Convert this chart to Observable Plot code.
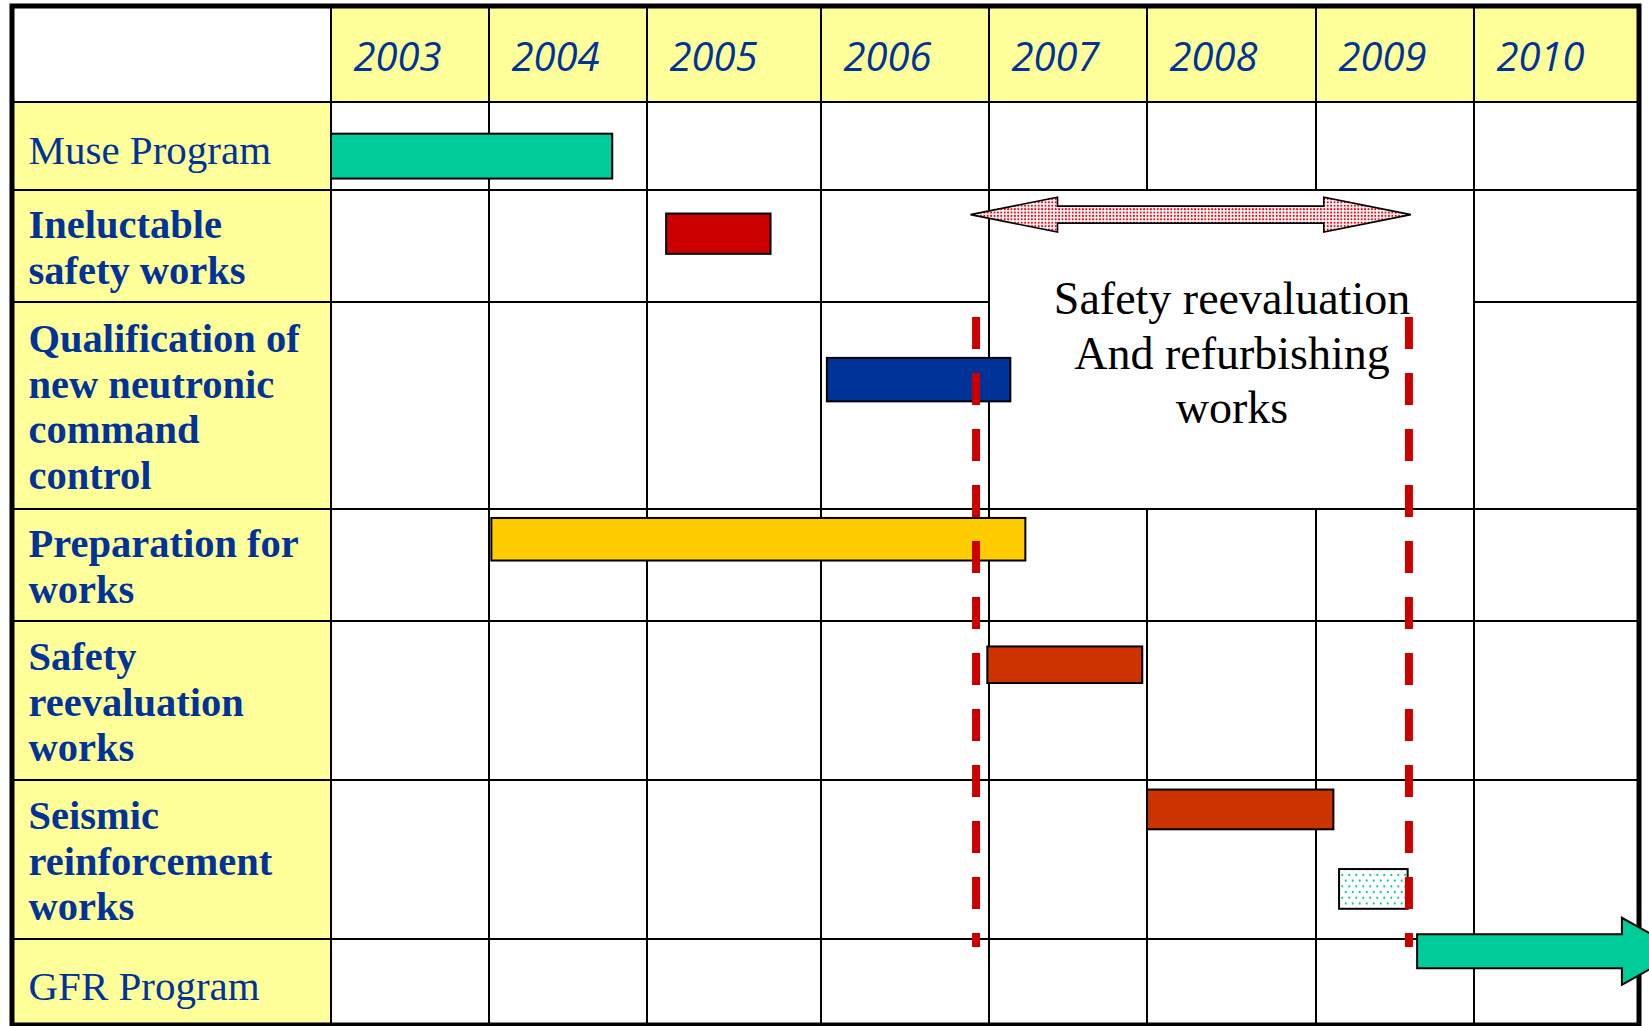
<!DOCTYPE html>
<html>
<head>
<meta charset="utf-8">
<script src="https://cdn.jsdelivr.net/npm/d3@7"></script>
<script src="https://cdn.jsdelivr.net/npm/@observablehq/plot@0.6"></script>
<style>
html, body { margin: 0; padding: 0; overflow: hidden; background: #fff; }
</style>
</head>
<body>
<div id="chart"></div>
<script>
// ---------------- data ----------------
const years = [2003, 2004, 2005, 2006, 2007, 2008, 2009, 2010];
const rowLabels = [
  "Muse Program",
  "Ineluctable\nsafety works",
  "Qualification of\nnew neutronic\ncommand\ncontrol",
  "Preparation for\nworks",
  "Safety\nreevaluation\nworks",
  "Seismic\nreinforcement\nworks",
  "GFR Program"
];
const rowBold = [false, true, true, true, true, true, false];

// tasks (bars): row index, start / end (fractional year), lane within row (fraction of row)
const taskRow        = [0, 1, 2, 3, 4, 5, 5];
const taskStart      = [2003.0, 2005.11, 2006.035, 2004.015, 2006.99, 2008.0, 2009.146];
const taskEnd        = [2004.78, 2005.71, 2007.135, 2007.23, 2007.97, 2009.11, 2009.58];
const taskLaneTop    = [0.36, 0.21, 0.27, 0.08, 0.16, 0.06, 0.56];
const taskLaneBottom = [0.87, 0.57, 0.48, 0.46, 0.39, 0.31, 0.81];
const taskKind       = ["muse", "ineluctable", "qualification", "preparation", "safety", "seismic", "seismicOption"];

// safety reevaluation period: double arrow, merged box, dashed markers
const periodArrow = {start: 2006.89, end: 2009.60, row: 1, lane: 0.22};
const periodMarkers = [2006.92, 2009.585];
const boxYears = [2007, 2010];     // merged cell spans 2007..2009
const boxRows = [1, 3];            // rows "Ineluctable" and "Qualification"
const boxText = "Safety reevaluation\nAnd refurbishing\nworks";

// GFR program arrow
const gfrArrow = {start: 2009.64, end: 2011.26, row: 6, lane: 0.143};

// ---------------- styles ----------------
const yellow = "#FFFF99";
const labelBlue = "#003399";
const kindColor = {
  muse: "#00CC99", ineluctable: "#CC0000", qualification: "#003399",
  preparation: "#FFCC00", safety: "#CC3300", seismic: "#CC3300",
  seismicOption: "url(#dotsTeal)"
};

// ---------------- tables ----------------
const labelCol = years[0] - 1;
const lastEdge = years[years.length - 1] + 1;

const cells = [];
cells.push({x1: labelCol, x2: years[0], y1: 0, y2: 1, fill: "white"});
for (const yr of years) cells.push({x1: yr, x2: yr + 1, y1: 0, y2: 1, fill: yellow});
rowLabels.forEach((_, r) => {
  cells.push({x1: labelCol, x2: years[0], y1: r + 1, y2: r + 2, fill: yellow});
  for (const yr of years) {
    const inBox = yr >= boxYears[0] && yr < boxYears[1] && r >= boxRows[0] && r < boxRows[1];
    if (!inBox) cells.push({x1: yr, x2: yr + 1, y1: r + 1, y2: r + 2, fill: "white"});
  }
});
cells.push({x1: boxYears[0], x2: boxYears[1], y1: boxRows[0] + 1, y2: boxRows[1] + 1, fill: "white"});

const tasks = taskRow.map((r, i) => ({
  x1: taskStart[i], x2: taskEnd[i],
  y1: r + 1 + taskLaneTop[i], y2: r + 1 + taskLaneBottom[i],
  fill: kindColor[taskKind[i]]
}));

// ---------------- block arrows (drawn through Plot's scales) ----------------
function blockArrows(index, scales) {
  const g = d3.create("svg:g");
  const defs = g.append("defs");
  const pr = defs.append("pattern").attr("id", "dotsRed").attr("patternUnits", "userSpaceOnUse")
    .attr("width", 3.4).attr("height", 3.4);
  pr.append("rect").attr("width", 3.4).attr("height", 3.4).attr("fill", "white");
  pr.append("circle").attr("cx", 1.7).attr("cy", 1.7).attr("r", 1.05).attr("fill", "#E60012");
  const pt = defs.append("pattern").attr("id", "dotsTeal").attr("patternUnits", "userSpaceOnUse")
    .attr("width", 7).attr("height", 11.4);
  pt.append("rect").attr("width", 7).attr("height", 11.4).attr("fill", "white");
  pt.append("circle").attr("cx", 1.75).attr("cy", 2.85).attr("r", 1.1).attr("fill", "#00CC99");
  pt.append("circle").attr("cx", 5.25).attr("cy", 8.55).attr("r", 1.1).attr("fill", "#00CC99");

  // double arrow
  {
    const a = periodArrow;
    const x0 = scales.x(a.start), x1 = scales.x(a.end), yc = scales.y(a.row + 1 + a.lane);
    const h = 87, H = 17.5, s = 8.5;
    const p = [[x0, yc], [x0 + h, yc - H], [x0 + h, yc - s], [x1 - h, yc - s], [x1 - h, yc - H], [x1, yc],
               [x1 - h, yc + H], [x1 - h, yc + s], [x0 + h, yc + s], [x0 + h, yc + H]];
    g.append("path").attr("d", "M" + p.map(q => q.join(",")).join("L") + "Z")
      .attr("fill", "url(#dotsRed)").attr("stroke", "black").attr("stroke-width", 1.6)
      .attr("stroke-linejoin", "miter");
  }
  // GFR single arrow
  {
    const a = gfrArrow;
    const x0 = scales.x(a.start), x1 = scales.x(a.end), yc = scales.y(a.row + 1 + a.lane);
    const h = 60, H = 33.5, s = 17;
    const p = [[x0, yc - s], [x1 - h, yc - s], [x1 - h, yc - H], [x1, yc], [x1 - h, yc + H], [x1 - h, yc + s], [x0, yc + s]];
    g.append("path").attr("d", "M" + p.map(q => q.join(",")).join("L") + "Z")
      .attr("fill", "#00CC99").attr("stroke", "black").attr("stroke-width", 2);
  }
  return g.node();
}

// ---------------- plot ----------------
const chart = Plot.plot({
  width: 1649,
  height: 1026,
  margin: 0,
  x: {type: "linear", domain: [labelCol, ...years, lastEdge],
      range: [12, 331, 489, 647, 821, 989, 1147, 1316, 1474, 1639], axis: null},
  y: {type: "linear", domain: d3.range(0, rowLabels.length + 2),
      range: [6, 102, 190, 302, 509, 621, 780, 939, 1025], axis: null},
  color: {type: "identity"},
  style: {background: "white"},
  marks: [
    Plot.rect(cells, {x1: "x1", x2: "x2", y1: "y1", y2: "y2", fill: d => d.fill, stroke: "black", strokeWidth: 2}),
    Plot.rect([0], {x1: () => labelCol, x2: () => lastEdge, y1: () => 0, y2: () => rowLabels.length + 1,
      fill: "none", stroke: "black", strokeWidth: 5}),
    Plot.rect(tasks, {x1: "x1", x2: "x2", y1: "y1", y2: "y2", fill: d => d.fill, stroke: "black", strokeWidth: 2}),
    blockArrows,
    // year header
    Plot.text(years, {x: d => d, y: () => 0.5, text: d => String(d), textAnchor: "start", dx: 22, dy: 4,
      fontFamily: "'Open Sans', sans-serif", fontStyle: "italic", fontSize: 40, fill: labelBlue}),
    // row labels
    Plot.text(rowLabels, {filter: (d, i) => !rowBold[i], x: () => labelCol, y: (d, i) => i + 1.5, text: d => d,
      textAnchor: "start", dx: 16, dy: 3, lineHeight: 1.125,
      fontFamily: "'Liberation Serif', serif", fontSize: 41, fill: labelBlue}),
    Plot.text(rowLabels, {filter: (d, i) => rowBold[i], x: () => labelCol, y: (d, i) => i + 1.5, text: d => d,
      textAnchor: "start", dx: 16, lineHeight: 1.125,
      fontFamily: "'Liberation Serif', serif", fontWeight: "bold", fontSize: 40.5, fill: labelBlue}),
    // merged box annotation
    Plot.text([boxText], {x: () => (boxYears[0] + boxYears[1]) / 2, y: () => (boxRows[0] + boxRows[1]) / 2 + 1,
      text: d => d, textAnchor: "middle", dy: 49, lineHeight: 1.185,
      fontFamily: "'Liberation Serif', serif", fontSize: 46, fill: "black"}),
    // dashed period markers
    Plot.ruleX(periodMarkers, {x: d => d, y1: () => boxRows[1], y2: () => rowLabels.length,
      insetTop: 15, insetBottom: -8, stroke: "#CC0000", strokeWidth: 8, strokeDasharray: "32,24"})
  ]
});
document.getElementById("chart").appendChild(chart);
</script>
</body>
</html>
